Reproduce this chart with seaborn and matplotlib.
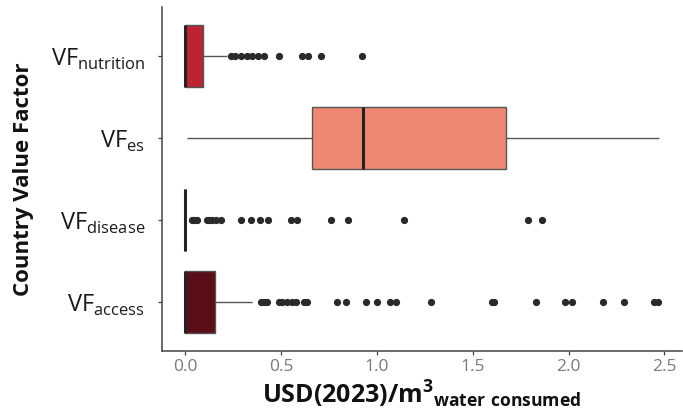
import matplotlib
matplotlib.use("Agg")
import matplotlib.pyplot as plt
import seaborn as sns
import pandas as pd

# ---- data ----
categories = ["nutrition", "es", "disease", "access"]
tick_labels = [r"VF$_\mathregular{nutrition}$", r"VF$_\mathregular{es}$",
               r"VF$_\mathregular{disease}$", r"VF$_\mathregular{access}$"]

vf_nutrition = [
    0.0, 0.0, 0.0, 0.0, 0.0, 0.0, 0.0, 0.0, 0.0, 0.0, 0.0, 0.0, 0.0, 0.0, 0.0, 0.0,
    0.0, 0.0, 0.0, 0.0, 0.0, 0.0, 0.0, 0.0, 0.0, 0.0, 0.0, 0.0, 0.0, 0.0, 0.0, 0.0,
    0.005, 0.01, 0.015, 0.02, 0.03, 0.035, 0.04, 0.05, 0.055, 0.06, 0.07, 0.08,
    0.09, 0.095, 0.16, 0.215,
    0.24, 0.26, 0.29, 0.32, 0.35, 0.38, 0.41, 0.49, 0.61, 0.64, 0.71, 0.92,
]

vf_es = [0.01, 0.15, 0.30, 0.45, 0.56, 0.661, 0.70, 0.76, 0.82, 0.88, 0.927,
         1.00, 1.12, 1.28, 1.45, 1.675, 1.80, 1.95, 2.10, 2.30, 2.47]

vf_disease = [
    0.0, 0.0, 0.0, 0.0, 0.0, 0.0, 0.0, 0.0, 0.0, 0.0, 0.0, 0.0, 0.0, 0.0, 0.0, 0.0,
    0.0, 0.0, 0.0, 0.0, 0.0, 0.0, 0.0, 0.0, 0.0, 0.0, 0.0, 0.0, 0.0, 0.0, 0.0, 0.0,
    0.0, 0.0, 0.0, 0.0, 0.0, 0.0, 0.0, 0.0, 0.0, 0.0, 0.0, 0.0, 0.0, 0.0, 0.0, 0.0,
    0.0, 0.0, 0.0, 0.0, 0.0, 0.0, 0.0, 0.0, 0.0, 0.0, 0.0, 0.0, 0.0, 0.0,
    0.035, 0.045, 0.06, 0.11, 0.125, 0.14, 0.16, 0.185, 0.29, 0.34, 0.39, 0.43,
    0.55, 0.58, 0.76, 0.85, 1.14, 1.79, 1.86,
]

vf_access = [
    0.0, 0.0, 0.0, 0.0, 0.0, 0.0, 0.0, 0.0, 0.0, 0.0, 0.0, 0.0, 0.0, 0.0, 0.0, 0.0,
    0.0, 0.0, 0.0, 0.0, 0.0, 0.0, 0.0, 0.0, 0.0, 0.0, 0.0, 0.0, 0.0, 0.0, 0.0, 0.0,
    0.0, 0.0, 0.0, 0.0, 0.0, 0.0, 0.0, 0.0, 0.0, 0.0, 0.0, 0.0, 0.0, 0.0, 0.0, 0.0,
    0.0, 0.0, 0.0, 0.0, 0.0, 0.0, 0.0, 0.0, 0.0, 0.0, 0.0, 0.0, 0.0,
    0.004, 0.011, 0.016, 0.02, 0.027, 0.031, 0.036, 0.042, 0.047, 0.05, 0.056,
    0.061, 0.066, 0.07, 0.077, 0.081, 0.086, 0.09, 0.096, 0.10, 0.106, 0.111,
    0.117, 0.12, 0.126, 0.131, 0.138, 0.145, 0.152, 0.158,
    0.22, 0.28, 0.345,
    0.395, 0.41, 0.425, 0.49, 0.505, 0.53, 0.555, 0.575, 0.62, 0.635, 0.79, 0.84,
    0.94, 1.00, 1.07, 1.10, 1.28, 1.60, 1.61, 1.83, 1.98, 2.02, 2.18, 2.29,
    2.445, 2.465,
]

colors = ["#BC2433", "#EE8873", "#8E1B2A", "#5B0D18"]
x_ticks = [0.0, 0.5, 1.0, 1.5, 2.0, 2.5]

rows = []
for cat, vals in zip(categories, [vf_nutrition, vf_es, vf_disease, vf_access]):
    for v in vals:
        rows.append({"factor": cat, "value": v})
df = pd.DataFrame(rows)

sns.set_style("white")
plt.rcParams["font.family"] = ["Open Sans", "DejaVu Sans"]

fig = plt.figure(figsize=(6.83, 4.12), dpi=100)
ax = fig.add_axes([0.237, 0.148, 0.761, 0.835])

sns.boxplot(
    data=df, x="value", y="factor", hue="factor", order=categories,
    hue_order=categories, palette=colors, orient="h", width=0.75,
    linecolor="#555555", linewidth=1.0, showcaps=False, legend=False,
    whis=1.5, saturation=1, ax=ax,
    medianprops=dict(color="#222222", linewidth=2.2),
    flierprops=dict(marker="o", markerfacecolor="#2a2a2a",
                    markeredgecolor="#2a2a2a", markersize=4.2),
)

ax.set_xlim(-0.123, 2.59)
ax.set_ylim(3.6, -0.6)
ax.set_xticks(x_ticks)
ax.set_xticklabels([f"{t:.1f}" for t in x_ticks], fontsize=12.5, color="#7a7a7a")
ax.set_yticks(range(len(categories)))
ax.set_yticklabels(tick_labels, fontsize=17, color="#1a1a1a")

for s in ["top", "right"]:
    ax.spines[s].set_visible(False)
for s in ["left", "bottom"]:
    ax.spines[s].set_color("#444444")
    ax.spines[s].set_linewidth(1.1)
ax.tick_params(axis="both", which="both", direction="out", length=3,
               width=0.9, color="#444444", left=True, bottom=True)
ax.tick_params(axis="y", pad=9)
ax.tick_params(axis="x", pad=3)

ax.set_ylabel("Country Value Factor", fontsize=16, fontweight="bold",
              color="#111111", labelpad=12)
ax.set_xlabel(r"USD(2023)/m$^\mathregular{3}{}_\mathregular{water\ consumed}$",
              fontsize=18, fontweight="bold", color="#111111", labelpad=2)

fig.savefig("out.png", dpi=100)
